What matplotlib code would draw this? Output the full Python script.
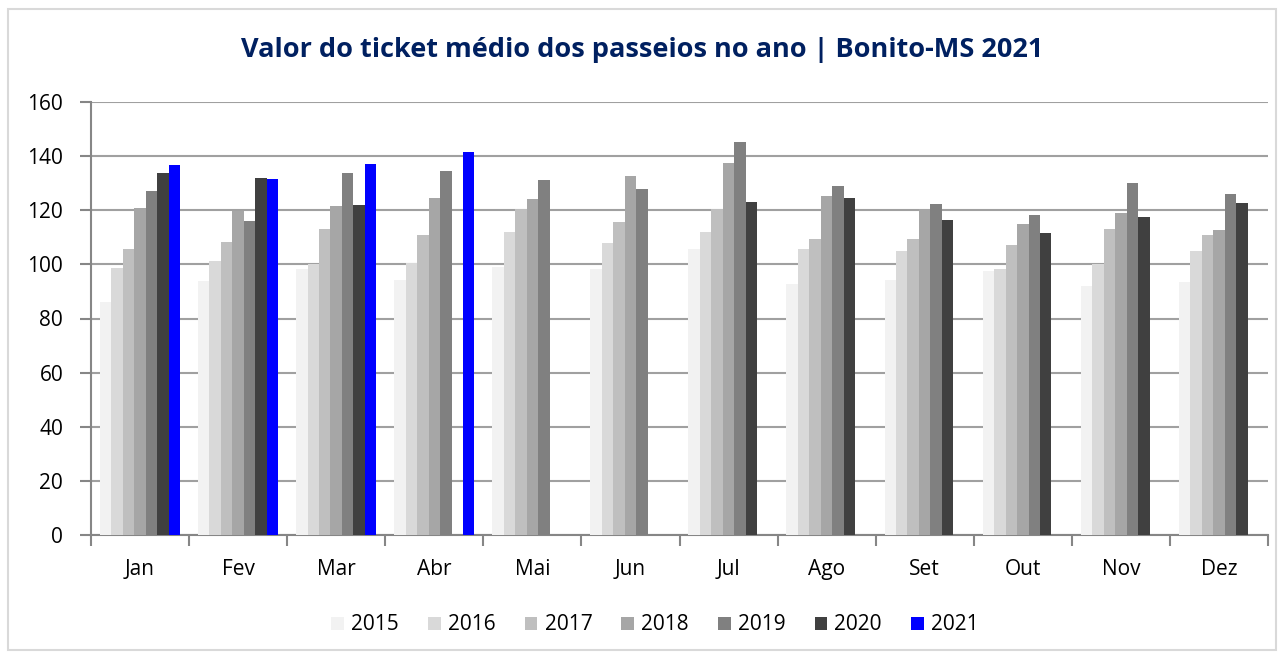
import numpy as np
import matplotlib
matplotlib.use('Agg')
import matplotlib.pyplot as plt
from matplotlib.patches import Rectangle

plt.rcParams['font.family'] = ['Open Sans', 'DejaVu Sans']

meses = ['Jan', 'Fev', 'Mar', 'Abr', 'Mai', 'Jun', 'Jul', 'Ago', 'Set', 'Out', 'Nov', 'Dez']
anos = ['2015', '2016', '2017', '2018', '2019', '2020', '2021']

v2015 = [86.0, 93.9, 98.4, 94.4, 99.2, 98.4, 105.7, 92.9, 94.1, 97.6, 92.1, 93.6]
v2016 = [98.8, 101.1, 100.1, 100.5, 111.8, 107.9, 112.0, 105.7, 105.1, 98.2, 100.3, 105.1]
v2017 = [105.6, 108.2, 113.1, 111.0, 120.4, 115.7, 120.4, 109.3, 109.5, 107.1, 113.0, 111.0]
v2018 = [120.7, 119.6, 121.5, 124.4, 124.2, 132.7, 137.4, 125.3, 120.4, 115.0, 119.1, 112.8]
v2019 = [127.0, 116.2, 133.8, 134.5, 131.1, 127.9, 145.1, 128.9, 122.4, 118.3, 130.2, 126.0]
v2020 = [133.9, 131.9, 122.0, np.nan, np.nan, np.nan, 122.9, 124.4, 116.5, 111.7, 117.4, 122.7]
v2021 = [136.7, 131.4, 137.0, 141.7, np.nan, np.nan, np.nan, np.nan, np.nan, np.nan, np.nan, np.nan]
series = [v2015, v2016, v2017, v2018, v2019, v2020, v2021]

cores = ['#f2f2f2', '#d9d9d9', '#bfbfbf', '#a6a6a6', '#808080', '#404040', '#0000ff']

fig = plt.figure(figsize=(12.84, 6.58), dpi=100)
ax = fig.add_axes([91/1284, 1-535/658, (1268-91)/1284, (535-102)/658])

# outer chart border
fig.patches.append(Rectangle((8/1284, 8/658), 1268/1284, 641/658, transform=fig.transFigure,
                             facecolor='none', edgecolor='#d9d9d9', lw=1.5))

x = np.arange(len(meses)) + 0.5
w = 0.117
for k, (vals, c, lab) in enumerate(zip(series, cores, anos)):
    ax.bar(x + (k - 3) * w, vals, width=w, color=c, label=lab, zorder=3)

ax.set_xlim(0, 12)
ax.set_ylim(0, 160)
ax.set_yticks(range(0, 161, 20))
ax.yaxis.grid(True, color='#a0a0a0', lw=1.5, zorder=0)
ax.set_axisbelow(True)

ax.set_xticks(range(0, 13))
ax.set_xticklabels([])
ax.set_xticks(x, minor=True)
ax.set_xticklabels(meses, minor=True)
ax.tick_params(axis='x', which='minor', length=0, pad=17, labelsize=15)
ax.tick_params(axis='x', which='major', length=8, width=1.5, color='#868686')
ax.tick_params(axis='y', length=8, width=1.5, color='#868686', labelsize=15, pad=12)

for s in ['top', 'right']:
    ax.spines[s].set_visible(False)
for s in ['left', 'bottom']:
    ax.spines[s].set_color('#868686')
    ax.spines[s].set_linewidth(1.5)

fig.text(0.5, 1-50/658, 'Valor do ticket médio dos passeios no ano | Bonito-MS 2021',
         ha='center', va='center', fontsize=19.5, fontweight='bold', color='#002060')

fig.legend(loc='center', bbox_to_anchor=(655/1284, 1-625/658), ncol=7, frameon=False,
           fontsize=15, handlelength=0.6, handleheight=0.6, handletextpad=0.35, columnspacing=1.4)

fig.savefig('out.png', dpi=100)
